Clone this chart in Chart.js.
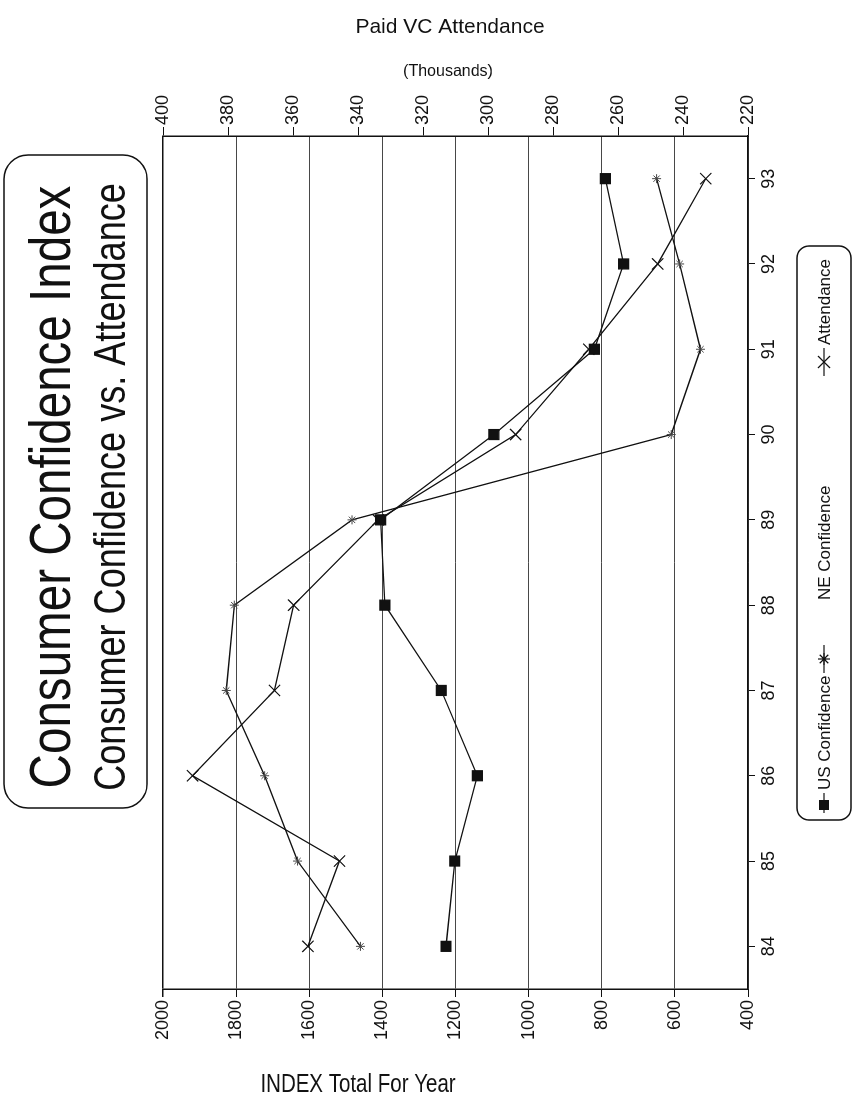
<!DOCTYPE html>
<html>
<head>
<meta charset="utf-8">
<script src="https://cdn.jsdelivr.net/npm/chart.js@4.4.0/dist/chart.umd.min.js"></script>
<style>
  html, body { margin: 0; padding: 0; background: #fff; }
  body { width: 854px; height: 1103px; position: relative; overflow: hidden; }
  /* The chart is laid out landscape and turned a quarter turn to stand on the page */
  #wrap {
    position: absolute; left: 0; top: 0;
    width: 1103px; height: 854px;
    transform-origin: 0 0;
    transform: translate(0, 1103px) rotate(-90deg);
  }
  canvas { display: block; }
</style>
</head>
<body>
<div id="wrap"><canvas id="c" width="1103" height="854"></canvas></div>
<script>
// Survey years
const years = ['84', '85', '86', '87', '88', '89', '90', '91', '92', '93'];
// Index totals for the year
const usConfidence = [1226, 1202, 1140, 1239, 1393, 1405, 1095, 820, 740, 790];
const neConfidence = [1460, 1632, 1722, 1827, 1805, 1483, 610, 530, 587, 650];
// Paid VC attendance, thousands
const attendance = [355.4, 345.7, 390.9, 365.7, 359.8, 333.8, 291.5, 269, 247.8, 233];

// Axis ranges
const indexRange = { min: 400, max: 2000, step: 200 };
const attendanceRange = { min: 220, max: 400, step: 20 };

const titleText = 'Consumer Confidence Index';
const subtitleText = 'Consumer Confidence vs. Attendance';
const indexAxisTitle = 'INDEX Total For Year';
const attendanceAxisTitle = 'Paid VC Attendance';
const attendanceUnit = '(Thousands)';

const FONT = "'Liberation Sans', Arial, Helvetica, sans-serif";
const INK = '#111';
const LW = 1103; // landscape width (page height)

function roundRect(ctx, x, y, w, h, r) {
  ctx.beginPath();
  ctx.moveTo(x + r, y);
  ctx.arcTo(x + w, y, x + w, y + h, r);
  ctx.arcTo(x + w, y + h, x, y + h, r);
  ctx.arcTo(x, y + h, x, y, r);
  ctx.arcTo(x, y, x + w, y, r);
  ctx.closePath();
}

// Text that sits level on the upright page (axis titles)
function pageText(ctx, text, px, py, size, squeeze) {
  ctx.save();
  ctx.translate(LW - py, px);
  ctx.rotate(Math.PI / 2);
  ctx.scale(squeeze || 1, 1);
  ctx.font = size + 'px ' + FONT;
  ctx.fillStyle = INK;
  ctx.textAlign = 'center';
  ctx.textBaseline = 'alphabetic';
  ctx.fillText(text, 0, 0);
  ctx.restore();
}

function drawMarker(ctx, kind, x, y, r) {
  ctx.save();
  ctx.strokeStyle = INK;
  ctx.fillStyle = INK;
  ctx.lineWidth = 1.2;
  ctx.beginPath();
  if (kind === 'rect') {
    ctx.fillRect(x - r, y - r, 2 * r, 2 * r);
  } else if (kind === 'star') {
    const d = r * Math.SQRT1_2;
    ctx.moveTo(x - r, y); ctx.lineTo(x + r, y);
    ctx.moveTo(x, y - r); ctx.lineTo(x, y + r);
    ctx.moveTo(x - d, y - d); ctx.lineTo(x + d, y + d);
    ctx.moveTo(x - d, y + d); ctx.lineTo(x + d, y - d);
    ctx.stroke();
  } else {
    ctx.moveTo(x - r, y - r); ctx.lineTo(x + r, y + r);
    ctx.moveTo(x - r, y + r); ctx.lineTo(x + r, y - r);
    ctx.stroke();
  }
  ctx.restore();
}

const legendItems = [
  { label: 'US Confidence', marker: 'rect', size: 5, lineFrom: -8, lineTo: 12, at: 298, textAt: 313 },
  { label: 'NE Confidence', marker: 'star', size: 6, lineFrom: -14, lineTo: 14, at: 444, textAt: 503 },
  { label: 'Attendance', marker: 'cross', size: 6, lineFrom: -14, lineTo: 14, at: 741, textAt: 758 }
];

const decorations = {
  id: 'decorations',
  afterDraw(chart) {
    const ctx = chart.ctx;
    ctx.save();
    // title panel
    ctx.strokeStyle = INK;
    ctx.lineWidth = 1.5;
    roundRect(ctx, 295, 4, 653, 143, 24);
    ctx.stroke();
    ctx.fillStyle = INK;
    ctx.textAlign = 'center';
    ctx.textBaseline = 'alphabetic';
    ctx.save();
    ctx.translate(616, 70);
    ctx.scale(0.82, 1);
    ctx.font = '58px ' + FONT;
    ctx.fillText(titleText, 0, 0);
    ctx.restore();
    ctx.save();
    ctx.translate(616, 125);
    ctx.scale(0.82, 1);
    ctx.font = '44px ' + FONT;
    ctx.fillText(subtitleText, 0, 0);
    ctx.restore();

    // legend panel
    roundRect(ctx, 283, 797, 574, 54, 12);
    ctx.stroke();
    const ly = 824;
    ctx.font = '17px ' + FONT;
    ctx.textAlign = 'left';
    ctx.textBaseline = 'middle';
    legendItems.forEach(it => {
      ctx.beginPath();
      ctx.lineWidth = 1.2;
      ctx.moveTo(it.at + it.lineFrom, ly);
      ctx.lineTo(it.at + it.lineTo, ly);
      ctx.stroke();
      drawMarker(ctx, it.marker, it.at, ly, it.size);
      ctx.fillStyle = INK;
      ctx.fillText(it.label, it.textAt, ly + 1);
    });
    ctx.restore();

    // axis titles, level on the page
    pageText(ctx, attendanceAxisTitle, 450, 33, 21, 1);
    pageText(ctx, attendanceUnit, 448, 76, 16, 1);
    pageText(ctx, indexAxisTitle, 358, 1092, 25, 0.82);
  }
};

const tickFont = { family: FONT, size: 18 };

new Chart(document.getElementById('c'), {
  type: 'line',
  data: {
    labels: years,
    datasets: [
      {
        label: 'US Confidence', data: usConfidence, yAxisID: 'yIdx',
        borderColor: INK, borderWidth: 1.3, tension: 0,
        pointStyle: 'rect', pointRadius: 7, pointBackgroundColor: INK, pointBorderColor: INK
      },
      {
        label: 'NE Confidence', data: neConfidence, yAxisID: 'yIdx',
        borderColor: INK, borderWidth: 1.3, tension: 0,
        pointStyle: 'star', pointRadius: 4.5, pointBorderColor: '#444', pointBorderWidth: 1
      },
      {
        label: 'Attendance', data: attendance, yAxisID: 'yAtt',
        borderColor: INK, borderWidth: 1.3, tension: 0,
        pointStyle: 'crossRot', pointRadius: 8, pointBorderColor: INK, pointBorderWidth: 1.2
      }
    ]
  },
  options: {
    responsive: false,
    animation: false,
    devicePixelRatio: 1,
    layout: { padding: { top: 163, left: 54, right: 76, bottom: 56 } },
    plugins: { legend: { display: false }, title: { display: false }, tooltip: { enabled: false } },
    scales: {
      x: {
        type: 'category', offset: true, position: 'bottom',
        grid: { display: true, drawOnChartArea: false, drawTicks: true, tickLength: 7, tickColor: INK, offset: false },
        border: { display: true, color: INK, width: 1.5 },
        ticks: { font: tickFont, color: INK, padding: 3, maxRotation: 0, minRotation: 0 },
        afterFit(s) { s.height = 50; }
      },
      yIdx: {
        position: 'left', min: indexRange.min, max: indexRange.max,
        grid: {
          drawOnChartArea: true, drawTicks: true, tickLength: 8, tickColor: INK,
          color: c => (c.tick && c.tick.value === indexRange.max) ? INK : '#484848',
          lineWidth: c => (c.tick && c.tick.value === indexRange.max) ? 1.5 : 1
        },
        border: { display: true, color: INK, width: 1.5 },
        ticks: { stepSize: indexRange.step, font: tickFont, color: INK, padding: 3, callback: v => String(v) },
        afterFit(s) { s.width = 60; }
      },
      yAtt: {
        position: 'right', min: attendanceRange.min, max: attendanceRange.max,
        grid: { drawOnChartArea: false, drawTicks: true, tickLength: 9, tickColor: INK },
        border: { display: true, color: INK, width: 1.5 },
        ticks: { stepSize: attendanceRange.step, font: tickFont, color: INK, padding: 2, callback: v => String(v) },
        afterFit(s) { s.width = 60; }
      }
    }
  },
  plugins: [decorations]
});
</script>
</body>
</html>
